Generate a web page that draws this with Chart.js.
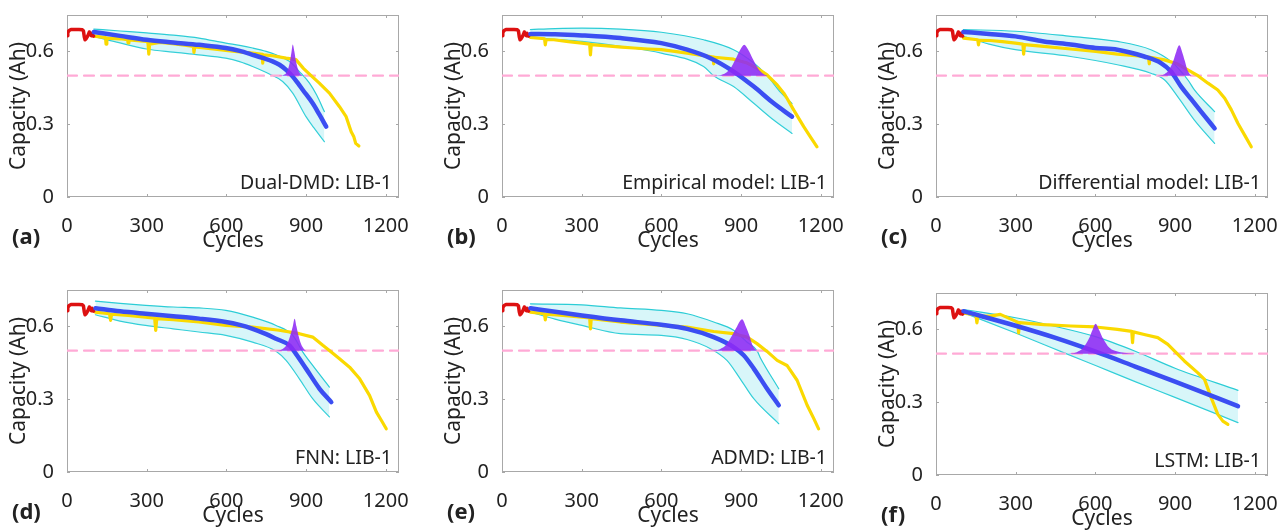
<!DOCTYPE html>
<html>
<head>
<meta charset="utf-8">
<script src="https://cdn.jsdelivr.net/npm/chart.js@4.4.0/dist/chart.umd.min.js"></script>
<style>
html, body { margin: 0; padding: 0; background: #fff; overflow: hidden; }
canvas { position: absolute; }
</style>
</head>
<body>
<canvas id="pa"></canvas>
<canvas id="pb"></canvas>
<canvas id="pc"></canvas>
<canvas id="pd"></canvas>
<canvas id="pe"></canvas>
<canvas id="pf"></canvas>
<script>
// axis setup
const xMax = 1250, yMax = 0.75, threshold = 0.5;
const xTicks = [0, 300, 600, 900, 1200];
const yTicks = [0, 0.3, 0.6];

// start-up cycles (red), same in every panel
const startup = [[0,0.665],[3,0.678],[8,0.686],[15,0.69],[30,0.69],[45,0.69],[58,0.689],[62,0.684],[65,0.66],[68,0.648],[72,0.652],[76,0.66],[80,0.668],[84,0.68],[88,0.672],[91,0.665],[94,0.675],[97,0.668],[100,0.663]];

// (a) Dual-DMD
const measA = [[103,0.663],[145,0.657],[147,0.63],[150,0.655],[200,0.652],[228,0.648],[230,0.635],[233,0.647],[300,0.641],[305,0.635],[308,0.589],[311,0.63],[350,0.637],[397,0.632],[450,0.625],[476,0.62],[478,0.596],[481,0.618],[550,0.61],[598,0.604],[650,0.598],[699,0.593],[735,0.588],[737,0.552],[740,0.586],[774,0.582],[825,0.572],[862,0.566],[890,0.53],[919,0.5],[950,0.469],[988,0.428],[1026,0.372],[1051,0.331],[1070,0.269],[1080,0.248],[1087,0.221],[1099,0.21]];
const predA = [[101,0.68],[200,0.664],[300,0.648],[400,0.637],[497,0.627],[598,0.614],[650,0.602],[699,0.586],[740,0.572],[774,0.559],[800,0.545],[825,0.524],[850,0.496],[870,0.468],[888,0.441],[925,0.386],[950,0.34],[976,0.29]];
const upA = [[101,0.692],[200,0.684],[300,0.676],[400,0.667],[497,0.655],[598,0.634],[650,0.625],[699,0.614],[750,0.6],[787,0.586],[837,0.559],[875,0.517],[913,0.469],[940,0.42],[969,0.352]];
const lowA = [[101,0.662],[200,0.635],[300,0.61],[400,0.597],[497,0.586],[598,0.572],[650,0.558],[699,0.538],[762,0.507],[812,0.476],[850,0.428],[900,0.331],[930,0.285],[969,0.228]];
const pdfA = [[797,0.5],[815,0.503],[828,0.515],[838,0.55],[845,0.595],[850,0.628],[856,0.6],[862,0.56],[870,0.525],[878,0.508],[888,0.5]];

// (b) Empirical model
const measB = [[107,0.658],[160,0.652],[163,0.627],[166,0.648],[195,0.648],[250,0.64],[301,0.634],[330,0.63],[333,0.586],[336,0.628],[395,0.623],[450,0.618],[496,0.614],[550,0.61],[600,0.607],[650,0.6],[697,0.593],[740,0.586],[785,0.579],[795,0.577],[797,0.549],[800,0.576],[872,0.568],[923,0.552],[960,0.531],[998,0.503],[1036,0.462],[1061,0.428],[1073,0.407],[1098,0.359],[1136,0.29],[1161,0.248],[1186,0.207]];
const predB = [[107,0.672],[200,0.671],[301,0.666],[446,0.655],[600,0.634],[697,0.607],[785,0.572],[872,0.517],[948,0.455],[1023,0.386],[1092,0.331]];
const upB = [[107,0.69],[200,0.694],[301,0.696],[446,0.692],[600,0.679],[759,0.648],[872,0.607],[948,0.552],[998,0.5],[1050,0.43],[1092,0.385]];
const lowB = [[107,0.658],[200,0.65],[301,0.641],[446,0.621],[600,0.593],[759,0.538],[797,0.5],[872,0.455],[948,0.386],[1023,0.317],[1092,0.262]];
const pdfB = [[797,0.5],[830,0.505],[860,0.53],[880,0.57],[897,0.607],[912,0.627],[927,0.607],[944,0.57],[964,0.53],[983,0.508],[1000,0.5]];

// (c) Differential model
const measC = [[103,0.655],[157,0.648],[160,0.627],[163,0.646],[204,0.645],[250,0.64],[299,0.634],[327,0.63],[330,0.589],[333,0.628],[406,0.621],[507,0.61],[601,0.6],[683,0.589],[784,0.579],[800,0.577],[803,0.549],[806,0.576],[860,0.565],[910,0.548],[948,0.524],[986,0.5],[1024,0.469],[1061,0.441],[1087,0.407],[1112,0.359],[1137,0.303],[1162,0.255],[1187,0.207]];
const predC = [[103,0.68],[200,0.672],[299,0.662],[406,0.641],[507,0.628],[601,0.614],[683,0.607],[784,0.579],[847,0.552],[885,0.517],[923,0.455],[960,0.404],[998,0.352],[1049,0.283]];
const upC = [[103,0.69],[299,0.683],[507,0.662],[683,0.641],[809,0.607],[885,0.559],[923,0.517],[950,0.48],[973,0.441],[1049,0.352]];
const lowC = [[103,0.662],[200,0.63],[299,0.607],[507,0.579],[683,0.545],[809,0.51],[860,0.483],[910,0.414],[973,0.317],[1049,0.221]];
const pdfC = [[834,0.5],[860,0.506],[878,0.525],[893,0.56],[905,0.6],[916,0.625],[926,0.6],[937,0.56],[946,0.525],[955,0.507],[962,0.5]];

// (d) FNN
const measD = [[107,0.659],[160,0.652],[164,0.625],[168,0.65],[230,0.645],[296,0.638],[330,0.634],[334,0.584],[338,0.632],[400,0.628],[497,0.618],[598,0.604],[699,0.597],[799,0.584],[875,0.57],[925,0.556],[963,0.522],[988,0.501],[1026,0.467],[1064,0.432],[1102,0.384],[1139,0.316],[1165,0.247],[1185,0.21],[1202,0.178]];
const predD = [[107,0.675],[200,0.662],[296,0.652],[400,0.642],[497,0.632],[598,0.618],[650,0.606],[699,0.59],[750,0.568],[787,0.549],[837,0.522],[862,0.487],[900,0.426],[951,0.343],[995,0.288]];
const upD = [[107,0.704],[200,0.695],[296,0.687],[400,0.68],[497,0.676],[598,0.666],[699,0.638],[787,0.604],[850,0.563],[888,0.494],[925,0.439],[988,0.35]];
const lowD = [[107,0.648],[200,0.622],[296,0.604],[400,0.59],[497,0.577],[598,0.563],[699,0.535],[787,0.498],[825,0.46],[875,0.384],[925,0.302],[988,0.227]];
const pdfD = [[787,0.5],[810,0.506],[828,0.525],[840,0.56],[850,0.6],[857,0.632],[864,0.6],[872,0.56],[882,0.525],[892,0.507],[900,0.5]];

// (e) ADMD
const measE = [[107,0.659],[160,0.652],[163,0.627],[166,0.65],[230,0.645],[301,0.638],[330,0.635],[333,0.59],[336,0.632],[446,0.618],[600,0.604],[697,0.597],[797,0.579],[872,0.57],[923,0.556],[960,0.529],[998,0.497],[1036,0.46],[1073,0.439],[1111,0.378],[1149,0.275],[1174,0.22],[1192,0.178]];
const predE = [[107,0.675],[200,0.66],[301,0.645],[446,0.625],[600,0.607],[697,0.59],[797,0.556],[872,0.515],[910,0.481],[948,0.426],[998,0.343],[1042,0.275]];
const upE = [[107,0.693],[301,0.689],[446,0.676],[600,0.666],[697,0.652],[797,0.618],[872,0.584],[923,0.535],[960,0.5],[973,0.47],[1042,0.343]];
const lowE = [[107,0.659],[200,0.63],[301,0.604],[446,0.57],[600,0.563],[697,0.546],[785,0.508],[847,0.46],[897,0.384],[948,0.302],[1042,0.199]];
const pdfE = [[785,0.5],[820,0.506],[845,0.525],[865,0.56],[885,0.6],[904,0.629],[918,0.6],[932,0.56],[942,0.525],[952,0.507],[960,0.5]];

// (f) LSTM
const measF = [[100,0.668],[150,0.66],[154,0.627],[158,0.655],[204,0.655],[242,0.662],[299,0.634],[308,0.63],[311,0.586],[314,0.628],[406,0.62],[507,0.614],[601,0.61],[683,0.6],[737,0.592],[740,0.545],[743,0.59],[784,0.579],[835,0.566],[873,0.538],[904,0.504],[935,0.47],[986,0.421],[1011,0.394],[1036,0.319],[1061,0.25],[1080,0.222],[1099,0.209]];
const predF = [[103,0.675],[300,0.615],[450,0.565],[601,0.508],[750,0.447],[900,0.385],[1137,0.284]];
const upF = [[103,0.682],[300,0.648],[450,0.612],[601,0.57],[750,0.51],[900,0.44],[1137,0.349]];
const lowF = [[103,0.669],[300,0.585],[490,0.5],[601,0.451],[750,0.385],[900,0.32],[1137,0.216]];
const pdfF = [[494,0.5],[530,0.506],[555,0.525],[575,0.56],[590,0.6],[601,0.623],[613,0.6],[630,0.56],[652,0.525],[690,0.507],[760,0.5]];

const family = '"Noto Sans", "DejaVu Sans", sans-serif';
const textColor = '#222';

const panels = [
  {id: 'pa', tag: '(a)', note: 'Dual-DMD: LIB-1', meas: measA, pred: predA, up: upA, low: lowA, pdf: pdfA, left: 67, top: 15},
  {id: 'pb', tag: '(b)', note: 'Empirical model: LIB-1', meas: measB, pred: predB, up: upB, low: lowB, pdf: pdfB, left: 502, top: 15},
  {id: 'pc', tag: '(c)', note: 'Differential model: LIB-1', meas: measC, pred: predC, up: upC, low: lowC, pdf: pdfC, left: 936, top: 15},
  {id: 'pd', tag: '(d)', note: 'FNN: LIB-1', meas: measD, pred: predD, up: upD, low: lowD, pdf: pdfD, left: 67, top: 290},
  {id: 'pe', tag: '(e)', note: 'ADMD: LIB-1', meas: measE, pred: predE, up: upE, low: lowE, pdf: pdfE, left: 502, top: 290},
  {id: 'pf', tag: '(f)', note: 'LSTM: LIB-1', meas: measF, pred: predF, up: upF, low: lowF, pdf: pdfF, left: 936, top: 293}
];

function pts(a) {
  return a.map(p => ({x: p[0], y: p[1]}));
}

// box around the plot, inward ticks, model note and panel tag
const frame = {
  id: 'frame',
  beforeDatasetsDraw(chart) {
    const {ctx, chartArea: a, scales: {x, y}} = chart;
    ctx.save();
    ctx.strokeStyle = '#a8a8a8';
    ctx.lineWidth = 1;
    ctx.strokeRect(a.left + 0.5, a.top + 0.5, a.width - 1, a.height - 1);
    ctx.beginPath();
    xTicks.forEach(v => {
      const px = Math.round(x.getPixelForValue(v)) + 0.5;
      ctx.moveTo(px, a.bottom); ctx.lineTo(px, a.bottom - 3);
      ctx.moveTo(px, a.top); ctx.lineTo(px, a.top + 3);
    });
    yTicks.forEach(v => {
      const py = Math.round(y.getPixelForValue(v)) + 0.5;
      ctx.moveTo(a.left, py); ctx.lineTo(a.left + 3, py);
      ctx.moveTo(a.right, py); ctx.lineTo(a.right - 3, py);
    });
    ctx.stroke();
    ctx.restore();
  },
  afterDatasetsDraw(chart, args, opts) {
    const {ctx, chartArea: a} = chart;
    ctx.save();
    ctx.fillStyle = textColor;
    ctx.textBaseline = 'middle';
    ctx.font = '19.5px ' + family;
    ctx.textAlign = 'right';
    ctx.fillText(opts.note, a.right - 7, a.bottom - 14);
    ctx.font = 'bold 22px ' + family;
    ctx.textAlign = 'left';
    ctx.fillText(opts.tag, a.left - 55, a.bottom + 41);
    ctx.restore();
  }
};

function makeChart(p) {
  const cv = document.getElementById(p.id);
  cv.width = 409;
  cv.height = 254;
  cv.style.left = (p.left - 67) + 'px';
  cv.style.top = (p.top - 15) + 'px';

  const smooth = {cubicInterpolationMode: 'monotone'};
  new Chart(cv, {
    type: 'line',
    data: {
      datasets: [
        Object.assign({data: pts(p.pdf), borderWidth: 0, borderColor: 'rgba(0,0,0,0)', backgroundColor: 'rgba(142,42,245,0.88)', fill: {value: threshold}, order: 0}, smooth),
        Object.assign({data: pts(p.pred), borderColor: '#3b4ef2', borderWidth: 4.5, order: 1}, smooth),
        {data: pts(startup), borderColor: '#dd1111', borderWidth: 3.5, order: 2},
        {data: pts(p.meas), borderColor: '#fad900', borderWidth: 3.2, order: 3},
        {data: [{x: 0, y: threshold}, {x: xMax, y: threshold}], borderColor: '#ffaad6', borderWidth: 2.2, borderDash: [10, 7], order: 4},
        Object.assign({data: pts(p.up), borderColor: '#2ccdd6', borderWidth: 1.2, fill: '+1', backgroundColor: 'rgba(110,220,232,0.27)', order: 5}, smooth),
        Object.assign({data: pts(p.low), borderColor: '#2ccdd6', borderWidth: 1.2, order: 6}, smooth)
      ]
    },
    options: {
      animation: false,
      responsive: false,
      layout: {padding: {left: 0, top: 15, right: 10, bottom: 0}},
      elements: {point: {radius: 0}, line: {borderCapStyle: 'round', borderJoinStyle: 'round'}},
      plugins: {
        legend: {display: false},
        tooltip: {enabled: false},
        frame: {note: p.note, tag: p.tag}
      },
      scales: {
        x: {
          type: 'linear', min: 0, max: xMax,
          grid: {display: false}, border: {display: false},
          afterBuildTicks: s => { s.ticks = xTicks.map(v => ({value: v})); },
          afterFit: s => { s.height = 57; s.paddingLeft = 0; s.paddingRight = 0; },
          ticks: {font: {family: family, size: 20}, color: textColor, padding: 9, maxRotation: 0, autoSkip: false,
                  callback: v => String(v)},
          title: {display: true, text: 'Cycles', font: {family: family, size: 21}, color: textColor, padding: {top: 0, bottom: 0}}
        },
        y: {
          type: 'linear', min: 0, max: yMax,
          grid: {display: false}, border: {display: false},
          afterBuildTicks: s => { s.ticks = yTicks.map(v => ({value: v})); },
          afterFit: s => { s.width = 67; s.paddingTop = 0; s.paddingBottom = 0; },
          ticks: {font: {family: family, size: 20}, color: textColor, padding: 5,
                  callback: v => v === 0 ? '0' : v.toFixed(1)},
          title: {display: true, text: 'Capacity (Ah)', font: {family: family, size: 21}, color: textColor, padding: {top: 6, bottom: 0}}
        }
      }
    },
    plugins: [frame]
  });
}

panels.forEach(makeChart);
</script>
</body>
</html>
